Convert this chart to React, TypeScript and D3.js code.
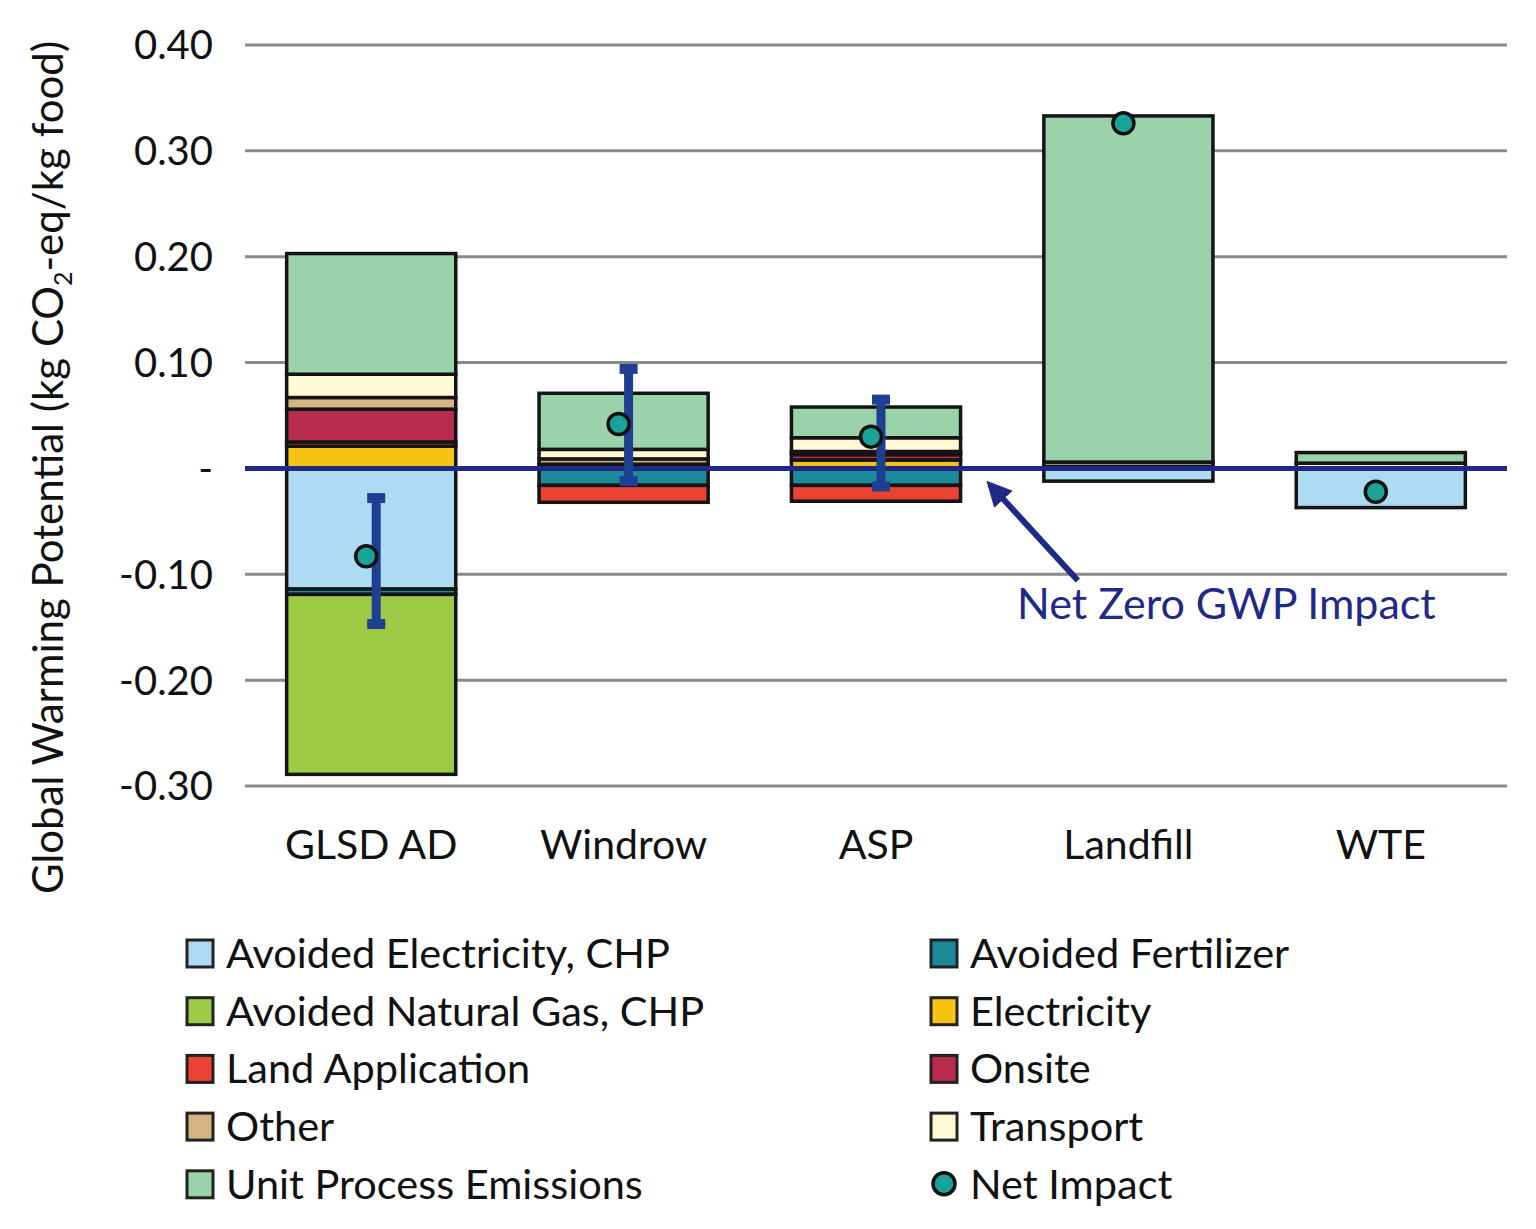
import * as d3 from "d3";

const categories = ["GLSD AD", "Windrow", "ASP", "Landfill", "WTE"];

const seriesNames = [
  "Avoided Electricity, CHP",
  "Avoided Fertilizer",
  "Avoided Natural Gas, CHP",
  "Electricity",
  "Land Application",
  "Onsite",
  "Other",
  "Transport",
  "Unit Process Emissions",
];

const seriesColors = [
  "#acdbf2",
  "#1c8a98",
  "#9dcb46",
  "#f5c312",
  "#ea4234",
  "#b92c50",
  "#d3b483",
  "#fffad3",
  "#9ad3a9",
];

// values per series, in category order
const avoidedElectricity = [-0.114, 0, 0, -0.012, -0.037];
const avoidedFertilizer = [-0.005, -0.016, -0.016, 0, 0];
const avoidedNaturalGas = [-0.17, 0, 0, 0, 0];
const electricity = [0.021, 0.001, 0.008, 0, 0];
const landApplication = [0.004, -0.016, -0.015, 0, 0];
const onsite = [0.031, 0.003, 0.005, 0, 0];
const other = [0.011, 0.005, 0.003, 0.002, 0];
const transport = [0.022, 0.009, 0.013, 0.004, 0.005];
const unitProcess = [0.114, 0.053, 0.029, 0.327, 0.01];

const netImpact = [-0.083, 0.042, 0.03, 0.326, -0.022];
const errorLow = [-0.147, -0.012, -0.017, null, null];
const errorHigh = [-0.028, 0.094, 0.065, null, null];

const yTicks = [0.4, 0.3, 0.2, 0.1, 0, -0.1, -0.2, -0.3];
const yTickLabels = ["0.40", "0.30", "0.20", "0.10", "-", "-0.10", "-0.20", "-0.30"];

const seriesValues = [
  avoidedElectricity,
  avoidedFertilizer,
  avoidedNaturalGas,
  electricity,
  landApplication,
  onsite,
  other,
  transport,
  unitProcess,
];

const FONT = "Lato, 'Open Sans', sans-serif";
const NAVY = "#1f2a87";
const ERR = "#1f3f91";
const DOT = "#1aa398";

export default function App() {
  const width = 1536;
  const height = 1229;
  const left = 245;
  const right = 1507;

  const x = d3
    .scaleBand<string>()
    .domain(categories)
    .range([left, right])
    .paddingInner(0.33)
    .paddingOuter(0.165);
  const y = d3.scaleLinear().domain([-0.3, 0.4]).range([786, 45]);

  const rows = categories.map((c, i) => {
    const r: Record<string, number | string> = { category: c };
    seriesNames.forEach((s, j) => (r[s] = seriesValues[j][i]));
    return r;
  });

  const stacked = d3
    .stack<Record<string, number | string>>()
    .keys(seriesNames)
    .value((d, key) => d[key] as number)
    .offset(d3.stackOffsetDiverging)(rows);

  const bw = x.bandwidth();
  const errOffset = 5;

  const arrowTipX = x("Landfill")! - 54;
  const arrowTipY = y(0) + 16;

  return (
    <svg
      width={width}
      height={height}
      style={{ position: "absolute", left: 0, top: 0, background: "#fff" }}
      fontFamily={FONT}
    >
      <defs>
        <marker
          id="arrowHead"
          viewBox="0 0 10 10"
          refX="8"
          refY="5"
          markerWidth="4.2"
          markerHeight="4.2"
          orient="auto"
        >
          <path d="M0,0 L10,5 L0,10 z" fill={NAVY} />
        </marker>
      </defs>

      {/* grid */}
      {yTicks
        .filter((t) => t !== 0)
        .map((t) => (
          <line key={t} x1={left} x2={right} y1={y(t)} y2={y(t)} stroke="#8a8a8a" strokeWidth={3} />
        ))}

      {/* tick labels */}
      {yTicks.map((t, i) => (
        <text
          key={`tl-${t}`}
          x={213}
          y={y(t)}
          dy="0.36em"
          textAnchor="end"
          fontSize={40}
          fill="#111"
        >
          {yTickLabels[i]}
        </text>
      ))}

      {/* stacked bars */}
      {stacked.map((layer, j) => (
        <g key={layer.key}>
          {layer.map((d, i) => {
            if (d[1] - d[0] === 0) return null;
            const cat = categories[i];
            return (
              <rect
                key={cat}
                x={x(cat)}
                y={y(d[1])}
                width={bw}
                height={y(d[0]) - y(d[1])}
                fill={seriesColors[j]}
                stroke="#141414"
                strokeWidth={3.5}
              />
            );
          })}
        </g>
      ))}

      {/* zero line */}
      <line x1={left} x2={right} y1={y(0)} y2={y(0)} stroke={NAVY} strokeWidth={5} />

      {/* error bars */}
      {categories.map((c, i) => {
        const lo = errorLow[i];
        const hi = errorHigh[i];
        if (lo === null || hi === null) return null;
        const cx = x(c)! + bw / 2 + errOffset;
        return (
          <g key={`err-${c}`} fill={ERR}>
            <line x1={cx} x2={cx} y1={y(hi)} y2={y(lo)} stroke={ERR} strokeWidth={9} />
            <rect x={cx - 9} y={y(hi) - 5} width={18} height={10} />
            <rect x={cx - 9} y={y(lo) - 5} width={18} height={10} />
          </g>
        );
      })}

      {/* net impact dots */}
      {categories.map((c, i) => (
        <circle
          key={`dot-${c}`}
          cx={x(c)! + bw / 2 - 5}
          cy={y(netImpact[i])}
          r={10.5}
          fill={DOT}
          stroke="#111"
          strokeWidth={3.5}
        />
      ))}

      {/* category labels */}
      {categories.map((c) => (
        <text
          key={`cat-${c}`}
          x={x(c)! + bw / 2}
          y={859}
          textAnchor="middle"
          fontSize={41}
          fill="#111"
        >
          {c}
        </text>
      ))}

      {/* y title */}
      <text
        transform={`translate(63, ${(30 + 905) / 2}) rotate(-90)`}
        textAnchor="middle"
        fontSize={42}
        fill="#111"
      >
        Global Warming Potential (kg CO
        <tspan fontSize={25} dy={9}>
          2
        </tspan>
        <tspan dy={-9}>-eq/kg food)</tspan>
      </text>

      {/* annotation */}
      <line
        x1={arrowTipX + 88}
        y1={arrowTipY + 96}
        x2={arrowTipX}
        y2={arrowTipY}
        stroke={NAVY}
        strokeWidth={6}
        markerEnd="url(#arrowHead)"
      />
      <text x={1017} y={619} fontSize={43} fill={NAVY}>
        Net Zero GWP Impact
      </text>

      {/* legend */}
      {seriesNames.map((s, i) => {
        const col = i % 2;
        const row = Math.floor(i / 2);
        const sx = col === 0 ? 187 : 931;
        const cy = 953 + row * 57.7;
        return (
          <g key={`lg-${s}`}>
            <rect
              x={sx}
              y={cy - 13}
              width={26}
              height={27}
              fill={seriesColors[i]}
              stroke="#222"
              strokeWidth={3}
            />
            <text x={sx + 39} y={cy} dy="0.36em" fontSize={41.5} fill="#111">
              {s}
            </text>
          </g>
        );
      })}
      <g>
        <circle cx={944} cy={953 + 4 * 57.7} r={11} fill={DOT} stroke="#111" strokeWidth={3.5} />
        <text x={970} y={953 + 4 * 57.7} dy="0.36em" fontSize={41.5} fill="#111">
          Net Impact
        </text>
      </g>
    </svg>
  );
}
